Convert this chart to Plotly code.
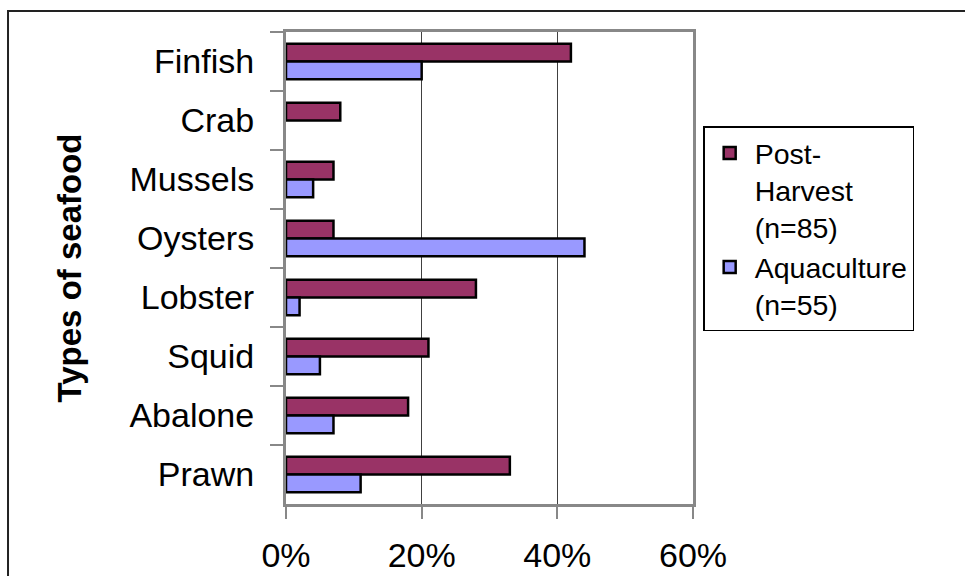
import plotly.graph_objects as go

categories = ["Finfish", "Crab", "Mussels", "Oysters", "Lobster", "Squid", "Abalone", "Prawn"]
post_harvest = [0.42, 0.08, 0.07, 0.07, 0.28, 0.21, 0.18, 0.33]
aquaculture = [0.20, 0.0, 0.04, 0.44, 0.02, 0.05, 0.07, 0.11]
x_ticks = [0, 0.2, 0.4, 0.6]
x_tick_labels = ["0%", "20%", "40%", "60%"]

FONT = "Liberation Sans, Arial, sans-serif"
OUTLINE = 2.5

fig = go.Figure()
fig.add_trace(go.Bar(
    y=categories, x=post_harvest, orientation="h",
    name="Post-<br>Harvest<br>(n=85)",
    marker=dict(color="#993366",
                line=dict(color="black", width=[OUTLINE if v else 0 for v in post_harvest])),
))
fig.add_trace(go.Bar(
    y=categories, x=aquaculture, orientation="h",
    name="Aquaculture<br>(n=55)",
    marker=dict(color="#9999FF",
                line=dict(color="black", width=[OUTLINE if v else 0 for v in aquaculture])),
))

fig.update_layout(
    width=965, height=576,
    margin=dict(l=286, r=272, t=32, b=72),
    paper_bgcolor="white", plot_bgcolor="white",
    barmode="group", bargap=0.4, bargroupgap=0,
    font=dict(family=FONT, color="black"),
    showlegend=True,
    legend=dict(
        x=1.025, y=0.80, xanchor="left", yanchor="top",
        font=dict(family=FONT, size=28.5, color="black"),
        bordercolor="black", borderwidth=1.5, bgcolor="white",
        valign="top", tracegroupgap=0, itemwidth=40,
    ),
    xaxis=dict(
        range=[0, 0.6], tickvals=x_ticks, ticktext=x_tick_labels,
        showgrid=True, gridcolor="#404040", gridwidth=1,
        showline=True, mirror=True, linecolor="#888888", linewidth=3,
        ticks="outside", ticklen=12, tickcolor="#888888", tickwidth=2,
        tickfont=dict(family=FONT, size=34, color="black"),
        ticklabelstandoff=7, zeroline=False, fixedrange=True,
        automargin=False,
    ),
    yaxis=dict(
        autorange="reversed", categoryorder="array", categoryarray=categories,
        showline=True, mirror=True, linecolor="#888888", linewidth=3,
        ticks="outside", ticklen=13, tickcolor="#888888", tickwidth=2,
        tickson="boundaries",
        tickfont=dict(family=FONT, size=34, color="black"),
        ticklabelstandoff=22,
        title=dict(text="<b>Types of seafood</b>", font=dict(family=FONT, size=33, color="black"), standoff=38),
        showgrid=False, fixedrange=True, automargin=False,
    ),
    shapes=[dict(
        type="rect", xref="paper", yref="paper",
        x0=-0.683, x1=1.8, y0=-0.5, y1=1.0445,
        line=dict(color="#222222", width=2), layer="below",
    )],
)

fig.write_html("out.html")
